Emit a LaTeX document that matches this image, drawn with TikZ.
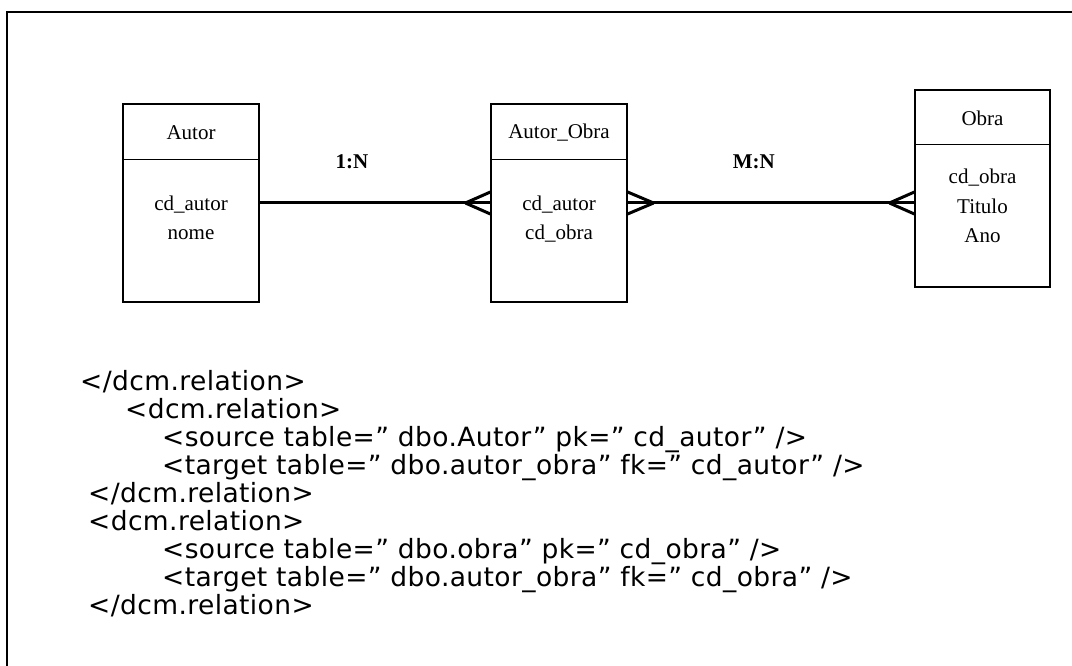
\documentclass[tikz,border=0pt]{standalone}
\usepackage{fontspec}
\setmainfont{Liberation Serif}
\newfontfamily\codefont[LetterSpace=1.5]{DejaVu Sans}

\begin{document}
\begin{tikzpicture}[x=1pt, y=-1pt,
  entity/.style={draw, line width=1.2pt, inner sep=0pt, minimum width=136pt},
  divider/.style={line width=1.2pt},
  entname/.style={font=\fontsize{21}{25}\selectfont},
  attrs/.style={font=\fontsize{21}{29.5}\selectfont, align=center},
  link/.style={line width=3pt},
  card/.style={font=\fontsize{21}{25}\selectfont\bfseries},
  code/.style={font=\codefont\fontsize{26.5}{30}\selectfont, anchor=base west, inner sep=0pt},
  frame/.style={line width=2pt}]
\useasboundingbox (0,0) rectangle (1072,666);
\draw[frame] (6.7,666) -- (6.7,12.5) -- (1072,12.5);

% entities
\node[entity, minimum height=198pt] (autor) at (191,203) {};
\node[entity, minimum height=198pt] (autorobra) at (559,203) {};
\node[entity, minimum height=197pt, minimum width=135pt] (obra) at (982.5,188.5) {};

% header lines
\draw[divider] ([yshift=-56pt]autor.north west) -- ([yshift=-56pt]autor.north east);
\draw[divider] ([yshift=-56pt]autorobra.north west) -- ([yshift=-56pt]autorobra.north east);
\draw[divider] ([yshift=-55pt]obra.north west) -- ([yshift=-55pt]obra.north east);

\node[entname] (autor-name) at (191,133) {Autor};
\node[entname] (autorobra-name) at (559,133) {Autor\_Obra};
\node[entname] (obra-name) at (982.5,118) {Obra};

\node[attrs] (autor-attrs) at (191,218) {cd\_autor\\nome};
\node[attrs] (autorobra-attrs) at (559,219) {cd\_autor\\cd\_obra};
\node[attrs] (obra-attrs) at (982.5,206) {cd\_obra\\Titulo\\Ano};

% relations
\coordinate (ao-in) at (autor.east -| autorobra.west);
\coordinate (ao-out) at (autorobra.east);
\coordinate (obra-in) at (autorobra.east -| obra.west);

\draw[link] (autor.east) -- coordinate[pos=0.4] (rel1) (ao-in);
\draw[link] (ao-out) -- coordinate[pos=0.44] (rel2) (obra-in);

% crow's feet
\draw[link] ([xshift=-25pt]ao-in) -- ([yshift=11pt]ao-in);
\draw[link] ([xshift=-25pt]ao-in) -- ([yshift=-11pt]ao-in);
\draw[link] ([xshift=26pt]ao-out) -- ([yshift=11pt]ao-out);
\draw[link] ([xshift=26pt]ao-out) -- ([yshift=-11pt]ao-out);
\draw[link] ([xshift=-25pt]obra-in) -- ([yshift=11pt]obra-in);
\draw[link] ([xshift=-25pt]obra-in) -- ([yshift=-11pt]obra-in);

\node[card] (card1) at ([yshift=41pt]rel1) {1:N};
\node[card] (card2) at ([yshift=41pt]rel2) {M:N};

% xml listing
\node[code] (l1) at (80,390) {</dcm.relation>};
\node[code] (l2) at (125,418) {<dcm.relation>};
\node[code] (l3) at (162,446) {<source table=” dbo.Autor” pk=” cd\_autor” />};
\node[code] (l4) at (162,474) {<target table=” dbo.autor\_obra” fk=” cd\_autor” />};
\node[code] (l5) at (88,502) {</dcm.relation>};
\node[code] (l6) at (88,530) {<dcm.relation>};
\node[code] (l7) at (162,558) {<source table=” dbo.obra” pk=” cd\_obra” />};
\node[code] (l8) at (162,586) {<target table=” dbo.autor\_obra” fk=” cd\_obra” />};
\node[code] (l9) at (88,614) {</dcm.relation>};
\end{tikzpicture}
\end{document}
